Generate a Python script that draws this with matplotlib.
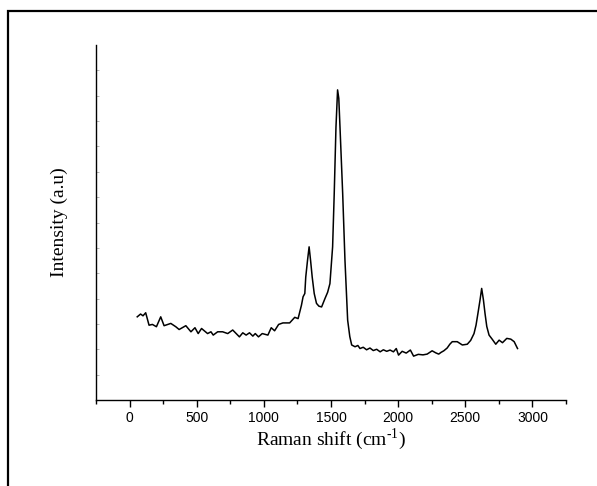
import numpy as np
import matplotlib.pyplot as plt
from matplotlib.patches import Rectangle

plt.rcParams['axes.unicode_minus'] = False

# Raman spectrum, values (arbitrary intensity units)
shift = [57, 82, 100, 120, 145, 170, 200, 232, 257, 307, 344, 369, 419, 457, 487,
         511, 536, 581, 606, 623, 656, 693, 731, 768, 818, 843, 868, 893, 918, 936,
         960, 988, 1030, 1055, 1080, 1110, 1142, 1192, 1230, 1255, 1280, 1292, 1305,
         1312, 1325, 1337, 1348, 1360, 1375, 1392, 1410, 1430, 1455, 1475, 1492, 1512,
         1524, 1537, 1549, 1558, 1567, 1587, 1604, 1624, 1640, 1654, 1679, 1700, 1716,
         1740, 1765, 1790, 1815, 1840, 1866, 1890, 1915, 1940, 1965, 1986, 2003, 2030,
         2060, 2091, 2115, 2150, 2185, 2216, 2253, 2280, 2302, 2320, 2340, 2365, 2385,
         2403, 2440, 2478, 2515, 2540, 2565, 2580, 2594, 2610, 2622, 2635, 2647, 2660,
         2677, 2700, 2727, 2752, 2777, 2809, 2839, 2864, 2889]
intensity = [3.28, 3.39, 3.32, 3.44, 2.95, 2.98, 2.89, 3.28, 2.93, 3.02, 2.89, 2.78,
             2.93, 2.69, 2.85, 2.62, 2.82, 2.62, 2.69, 2.56, 2.69, 2.69, 2.62, 2.76,
             2.49, 2.65, 2.56, 2.65, 2.52, 2.62, 2.49, 2.62, 2.56, 2.85, 2.73, 2.98,
             3.04, 3.04, 3.26, 3.21, 3.74, 4.07, 4.20, 4.85, 5.50, 6.04, 5.50, 4.85,
             4.20, 3.81, 3.70, 3.67, 4.00, 4.25, 4.59, 6.04, 8.14, 10.76, 12.23,
             11.90, 10.76, 8.14, 5.51, 3.15, 2.50, 2.17, 2.10, 2.15, 2.03, 2.08, 1.98,
             2.05, 1.95, 2.00, 1.90, 1.98, 1.92, 1.97, 1.90, 2.03, 1.77, 1.92, 1.85,
             1.97, 1.73, 1.80, 1.78, 1.81, 1.94, 1.86, 1.81, 1.88, 1.94, 2.05, 2.20,
             2.30, 2.30, 2.17, 2.20, 2.35, 2.62, 2.95, 3.41, 3.95, 4.40, 3.95, 3.41,
             2.90, 2.56, 2.40, 2.20, 2.36, 2.26, 2.43, 2.40, 2.30, 2.03]

xticks = [0, 500, 1000, 1500, 2000, 2500, 3000]
xticklabels = ['0', '500', '1000', '1500', '2000', '2500', '3000']

fig = plt.figure(figsize=(5.97, 4.86), dpi=100)
ax = fig.add_axes([96 / 597, 1 - 400 / 486, 470 / 597, 355 / 486])

ax.plot(shift, intensity, color='black', lw=1.1)

ax.set_xlim(-250, 3250)
ax.set_ylim(0, 14)
ax.set_xticks(xticks)
ax.set_xticklabels(xticklabels, fontfamily='Liberation Sans', fontsize=10)
ax.set_xticks(np.arange(-250, 3251, 250), minor=True)
ax.set_yticks(np.arange(1, 14))
ax.set_yticklabels([])
ax.tick_params(axis='x', which='major', direction='out', length=5, width=1, pad=3)
ax.tick_params(axis='x', which='minor', direction='out', length=3, width=1)
ax.tick_params(axis='y', which='major', direction='in', length=2, width=0.6,
               color='#aaaaaa')

ax.spines['top'].set_visible(False)
ax.spines['right'].set_visible(False)
ax.spines['left'].set_linewidth(1.0)
ax.spines['bottom'].set_linewidth(1.0)

ax.set_xlabel('Raman shift (cm$^{\\mathregular{\u2010}\\mathregular{1}}$)',
              family='Liberation Serif', fontsize=14, labelpad=1)
ax.set_ylabel('Intensity (a.u)', family='Liberation Serif', fontsize=14, labelpad=17)

# outer frame, cropped at the right and bottom edges
fig.add_artist(Rectangle((8 / 597, -0.1), 1.2, 1 - 11 / 486 + 0.1,
                         transform=fig.transFigure, fill=False,
                         edgecolor='black', lw=1.6))

fig.savefig('out.png', dpi=100)
